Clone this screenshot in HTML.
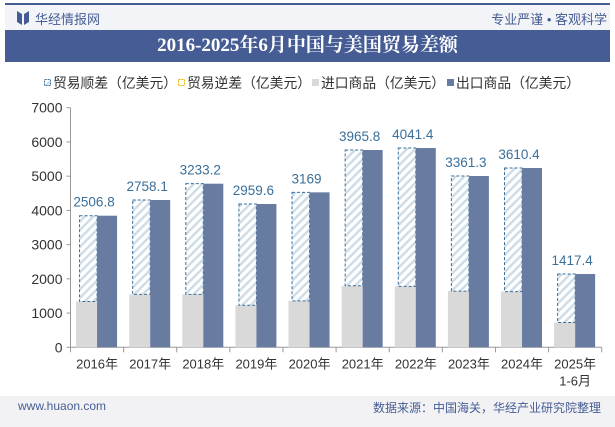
<!DOCTYPE html>
<html><head><meta charset="utf-8">
<style>
body{margin:0;width:615px;height:427px;background:#fff;position:relative;overflow:hidden;font-family:"Liberation Sans","Noto Sans CJK SC",sans-serif;}
.abs{position:absolute;}
</style></head><body>
<div class="abs" style="left:5px;top:3px;width:605px;height:2px;background:#455d94"></div>
<div class="abs" style="left:5px;top:5px;width:605px;height:25px;background:#f3f4f8"></div>
<svg class="abs" style="left:17px;top:11px" width="12" height="14"><path d="M0 0 L5 3 L5 14 L0 11Z M12 0 L7 3 L7 14 L12 11Z" fill="#455d94"/></svg>
<div class="abs" style="left:35px;top:9px;font-size:13px;color:#455d94">华经情报网</div>
<div class="abs" style="right:8px;top:9px;font-size:13px;color:#455d94">专业严谨 • 客观科学</div>
<div class="abs" style="left:5px;top:30px;width:605px;height:32px;background:#455d94;color:#fff;font:bold 19px 'Liberation Serif','Noto Serif CJK SC',serif;text-align:center;line-height:32px">2016-2025年6月中国与美国贸易差额</div>
<svg class="abs" style="left:0;top:62px" width="615" height="334" id="chart"></svg>
<div class="abs" style="left:0;top:396px;width:615px;height:31px;background:#f2f2f4"></div>
<div class="abs" style="left:18px;top:399px;font-size:12px;color:#455d94">www.huaon.com</div>
<div class="abs" style="right:14px;top:399px;font-size:12px;color:#455d94">数据来源：中国海关，华经产业研究院整理</div>
<script>
const categories=["2016年","2017年","2018年","2019年","2020年","2021年","2022年","2023年","2024年","2025年"];
const surplus=[2506.8,2758.1,3233.2,2959.6,3169,3965.8,4041.4,3361.3,3610.4,1417.4];
const exportsV=[3845,4303,4780,4187,4527,5764,5822,5004,5238,2141];
const yTicks=[0,1000,2000,3000,4000,5000,6000,7000];
const NS="http://www.w3.org/2000/svg";
const svg=document.getElementById('chart');
const OY=62;
const x0=70.5,x1=601.7,yZero=347.3-OY,yTop=107.7-OY;
const bw=(x1-x0)/categories.length;
const y=v=>yZero-(v/7000)*(yZero-yTop);
function el(t,a,p){const e=document.createElementNS(NS,t);for(const k in a)e.setAttribute(k,a[k]);(p||svg).appendChild(e);return e;}
const defs=el('defs',{});
const pat=el('pattern',{id:'hatch',width:6,height:6,patternUnits:'userSpaceOnUse',patternTransform:'rotate(45)'},defs);
el('rect',{width:6,height:6,fill:'#fff'},pat);
el('rect',{width:2.5,height:6,fill:'#cfdde8'},pat);
const leg=[["贸易顺差（亿美元）",'hatch',"#3a6f9a"],["贸易逆差（亿美元）",'y',"#e8b400"],["进口商品（亿美元）",'g',"#d9d9d9"],["出口商品（亿美元）",'b',"#687ca2"]];
const lxs=[44,178,312,447];
leg.forEach((l,i)=>{
  const g=el('g',{});
  
  
  const sx=lxs[i];
  if(l[1]=='hatch')el('rect',{x:sx+0.5,y:17.5,width:6,height:6,fill:'url(#hatch)',stroke:l[2],'stroke-dasharray':'2,1'},g);
  else if(l[1]=='y')el('rect',{x:sx+0.5,y:17.5,width:6,height:6,fill:'#fff',stroke:l[2],'stroke-dasharray':'2,1'},g);
  else el('rect',{x:sx,y:17,width:7,height:7,fill:l[2]},g);
  const t=el('text',{x:sx+9,y:26,'font-size':14,fill:'#333',textLength:124,lengthAdjust:'spacingAndGlyphs'},g);t.textContent=l[0];
});
el('line',{x1:x0,y1:yTop,x2:x0,y2:yZero,stroke:'#999'});
el('line',{x1:x0,y1:yZero,x2:x1,y2:yZero,stroke:'#999'});
yTicks.forEach(v=>{
  el('line',{x1:x0-4,y1:y(v),x2:x0,y2:y(v),stroke:'#999'});
  const t=el('text',{x:x0-8,y:y(v)+5,'font-size':14,fill:'#333','text-anchor':'end'});
  
  
  t.textContent=v;
});
for(let i=0;i<=categories.length;i++)el('line',{x1:x0+i*bw,y1:yZero,x2:x0+i*bw,y2:yZero+5,stroke:'#999'});
categories.forEach((c,i)=>{
  const cx=x0+i*bw+bw/2;
  const imp=exportsV[i]-surplus[i];
  const ib=el('rect',{x:cx-21,y:y(imp),width:21,height:yZero-y(imp),fill:'#d9d9d9'});
  
  
  const hb=el('rect',{x:cx-17.5,y:y(exportsV[i]),width:17.5,height:y(imp)-y(exportsV[i]),fill:'url(#hatch)',stroke:'#3a6f9a','stroke-dasharray':'3,2','stroke-width':1});
  
  
  const eb=el('rect',{x:cx,y:y(exportsV[i]),width:20,height:yZero-y(exportsV[i]),fill:'#687ca2'});
  
  
  const vl=el('text',{x:cx-3,y:y(exportsV[i])-9,'font-size':13.5,fill:'#3a6f9a','text-anchor':'middle'});
  
  
  vl.textContent=surplus[i];
  const cl=el('text',{x:cx,y:yZero+21,'font-size':13,fill:'#333','text-anchor':'middle'});
  
  
  cl.textContent=c;
  if(i==categories.length-1){const t2=el('text',{x:cx,y:yZero+38,'font-size':13,fill:'#333','text-anchor':'middle'});t2.textContent='1-6月';}
});
</script>
</body></html>
